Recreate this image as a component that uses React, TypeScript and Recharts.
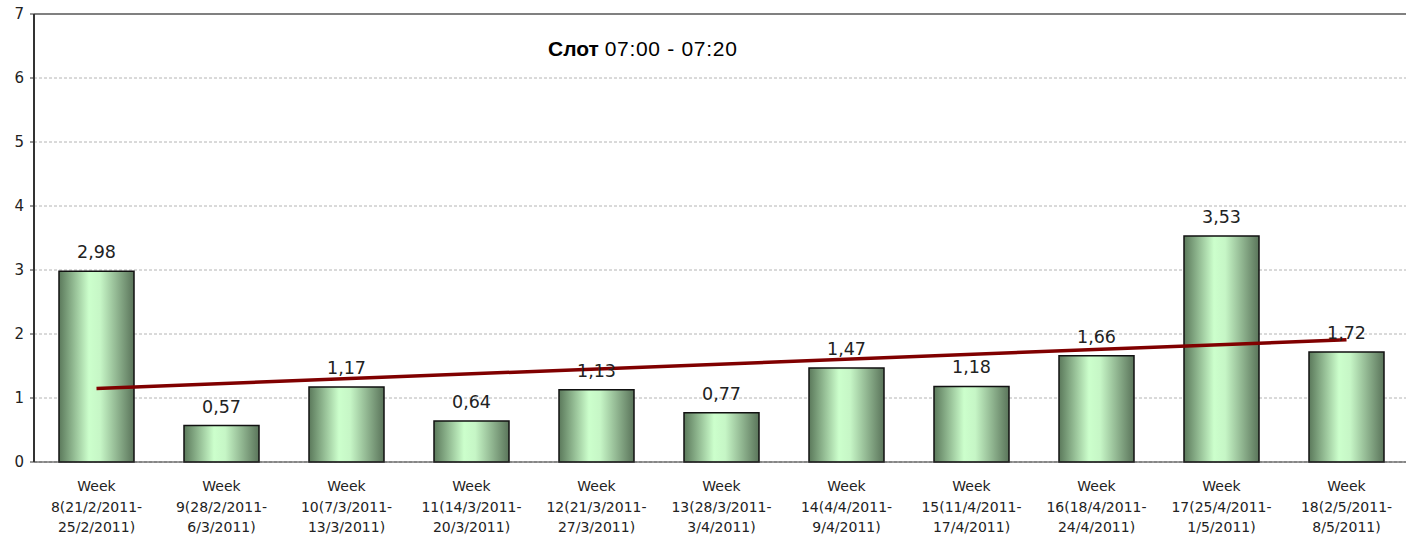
import React from 'react';
import {
  Bar,
  BarChart,
  CartesianGrid,
  LabelList,
  Line,
  ReferenceLine,
  XAxis,
  YAxis,
} from 'recharts';

const weeks = [
  'Week|8(21/2/2011-|25/2/2011)',
  'Week|9(28/2/2011-|6/3/2011)',
  'Week|10(7/3/2011-|13/3/2011)',
  'Week|11(14/3/2011-|20/3/2011)',
  'Week|12(21/3/2011-|27/3/2011)',
  'Week|13(28/3/2011-|3/4/2011)',
  'Week|14(4/4/2011-|9/4/2011)',
  'Week|15(11/4/2011-|17/4/2011)',
  'Week|16(18/4/2011-|24/4/2011)',
  'Week|17(25/4/2011-|1/5/2011)',
  'Week|18(2/5/2011-|8/5/2011)',
];

const values = [2.98, 0.57, 1.17, 0.64, 1.13, 0.77, 1.47, 1.18, 1.66, 3.53, 1.72];

// trend line, only the two ends
const trend = [1.15, null, null, null, null, null, null, null, null, null, 1.91];

const yTicks = [0, 1, 2, 3, 4, 5, 6, 7];
const boundaryTicks = [0, 1, 2, 3, 4, 5, 6, 7, 8, 9, 10, 11];

const chartData = weeks.map((w, i) => ({
  week: w,
  value: values[i],
  trend: trend[i],
}));

const FONT = '"DejaVu Sans", Verdana, sans-serif';

function WeekTick(props: any) {
  const { x, y, payload } = props;
  const lines = String(payload.value).split('|');
  return (
    <text x={x} y={y} textAnchor="middle" fontFamily={FONT} fontSize={14} fill="#222">
      {lines.map((l, i) => (
        <tspan key={i} x={x} dy={i === 0 ? 21 : 20.5}>
          {l}
        </tspan>
      ))}
    </text>
  );
}

export default function App() {
  return (
    <div style={{ position: 'absolute', left: 0, top: 0, width: 1406, height: 535, overflow: 'hidden', background: '#fff' }}>
      <BarChart
        width={1409}
        height={535}
        data={chartData}
        margin={{ top: 14, right: 0, bottom: 0, left: 0 }}
        barCategoryGap="20%"
      >
        <defs>
          <linearGradient id="barFill" x1="0" y1="0" x2="1" y2="0">
            <stop offset="0%" stopColor="#5b795b" />
            <stop offset="40%" stopColor="#ccffcc" />
            <stop offset="55%" stopColor="#c6f6c6" />
            <stop offset="100%" stopColor="#5a745a" />
          </linearGradient>
        </defs>
        <CartesianGrid vertical={false} stroke="#b4b4b4" strokeDasharray="3 2" />
        <XAxis
          xAxisId="b"
          type="number"
          domain={[0, 11]}
          ticks={boundaryTicks}
          height={0}
          tick={false}
          axisLine={false}
          tickLine={{ stroke: '#333' }}
          tickSize={5}
        />
        <XAxis
          dataKey="week"
          height={73}
          interval={0}
          tickLine={false}
          axisLine={{ stroke: '#333', strokeWidth: 1 }}
          tick={<WeekTick />}
        />
        <YAxis
          width={34}
          domain={[0, 7]}
          ticks={yTicks}
          interval={0}
          tickSize={4}
          tickMargin={6}
          axisLine={{ stroke: '#333', strokeWidth: 2 }}
          tickLine={{ stroke: '#333' }}
          tick={{ fontFamily: FONT, fontSize: 15, fill: '#222' }}
        />
        <ReferenceLine y={7} stroke="#808080" strokeWidth={2} />
        <Bar dataKey="value" fill="url(#barFill)" stroke="#111" strokeWidth={1.5} isAnimationActive={false}>
          <LabelList
            dataKey="value"
            position="top"
            offset={13}
            formatter={(v: any) => String(Number(v).toFixed(2)).replace('.', ',')}
            style={{ fontFamily: FONT, fontSize: 17.5, fill: '#222' }}
          />
        </Bar>
        <Line
          dataKey="trend"
          type="linear"
          connectNulls
          stroke="#800000"
          strokeWidth={3.5}
          dot={false}
          activeDot={false}
          isAnimationActive={false}
        />
      </BarChart>
      <div
        style={{
          position: 'absolute',
          left: 548,
          top: 37,
          fontFamily: '"Liberation Sans", Arial, sans-serif',
          fontSize: 21,
          color: '#000',
          whiteSpace: 'nowrap',
          lineHeight: '24px',
        }}
      >
        <b>Слот</b> <span style={{ letterSpacing: 0.7 }}>07:00 - 07:20</span>
      </div>
    </div>
  );
}
